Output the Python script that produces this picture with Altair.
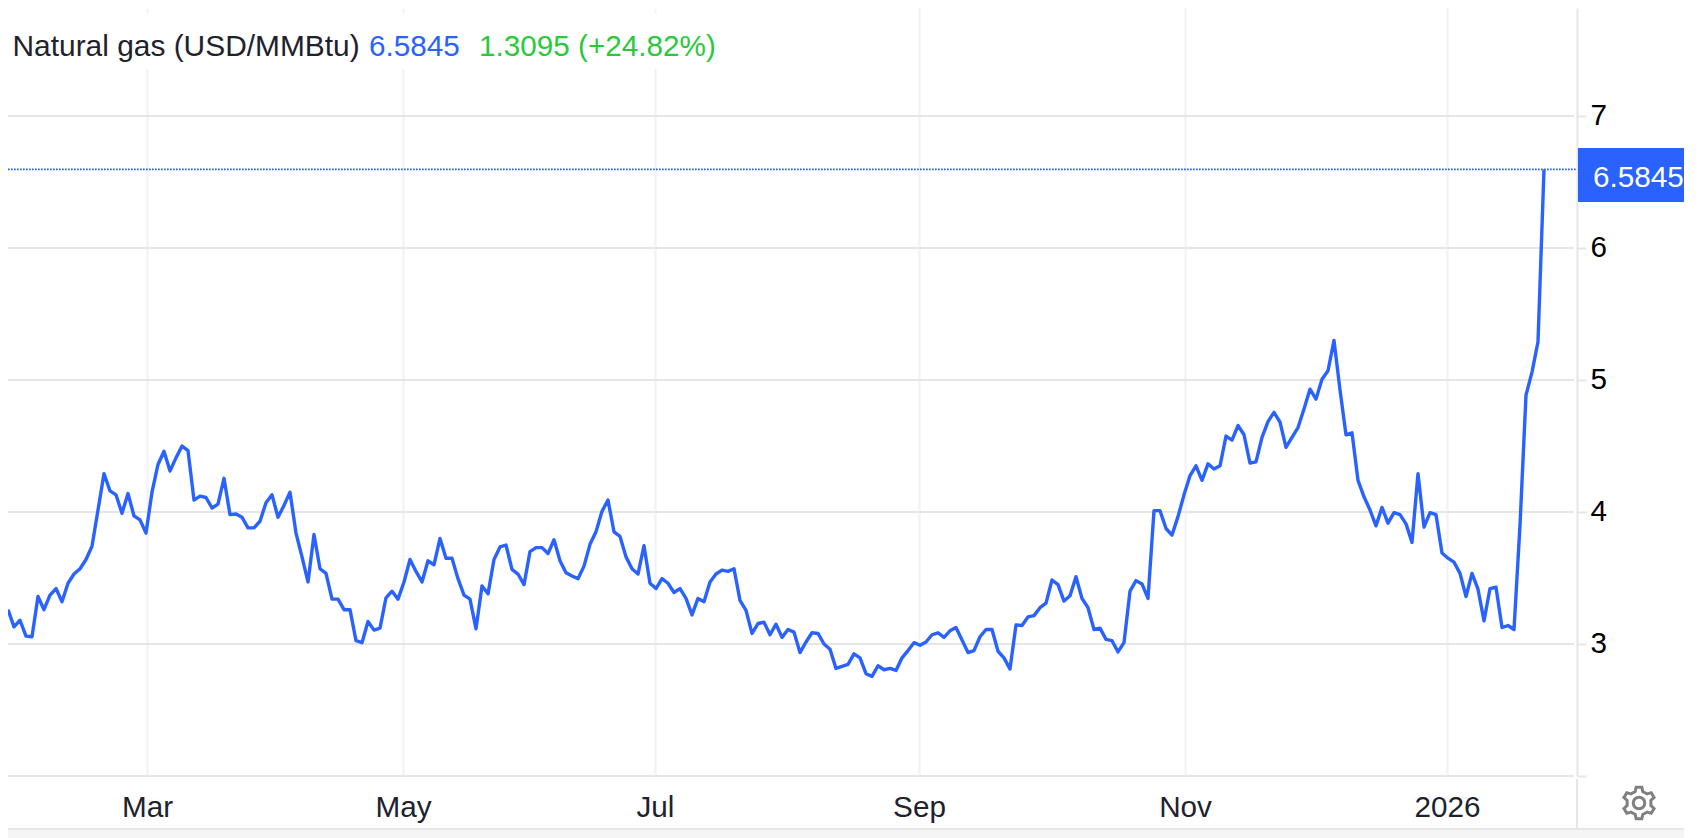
import math
import altair as alt
import pandas as pd

# Natural gas daily closes (one value per trading day)
prices_a = [3.26,3.13,3.18,3.06,3.055,3.36,3.26,3.37,3.42,3.32,3.46,3.53,3.57,3.64,3.74,4.015,4.29,4.16,4.13,3.99,
            4.14,3.97,3.94,3.84,4.15,4.36,4.46,4.31,4.41,4.50,4.465,4.09,4.12,4.11,4.03,4.06,4.255,3.98,3.985,3.96,
            3.88,3.88,3.93,4.07,4.13,3.96,4.05,4.15,3.84,3.66,3.47,3.83,3.57,3.535,3.34,3.34,3.26,3.26,3.025,3.01,
            3.17,3.105,3.12,3.35,3.40,3.34]
prices_b = [3.47,3.64,3.55,3.47,3.63,3.60,3.80,3.65,3.65,3.495,3.37,3.34,3.115,3.44,3.38,3.64,3.735,3.75,3.565,3.53,
            3.45,3.70,3.73,3.73,3.685,3.79,3.63,3.54,3.515,3.495,3.59,3.755,3.85,4.005,4.09,3.85,3.815,3.66,3.57,3.53,
            3.745,3.46,3.42,3.495,3.46,3.39,3.42,3.345,3.22,3.345,3.32,3.47,3.53,3.56,3.55,3.57,3.33,3.255,3.08,3.155,
            3.165,3.07,3.15,3.05,3.11,3.09]
prices_c = [2.935,3.015,3.085,3.08,3.0,2.96,2.815,2.83,2.845,2.925,2.895,2.775,2.755,2.835,2.805,2.815,2.80,2.895,2.95,3.01,
            2.99,3.015,3.07,3.085,3.05,3.10,3.125,3.03,2.935,2.95,3.055,3.11,3.11,2.945,2.895,2.81,3.145,3.14,3.205,3.215,
            3.275,3.31,3.485,3.45,3.325,3.365,3.51,3.345,3.275,3.11,3.12,3.035,3.025,2.94,3.01,3.40,3.48,3.455,3.345]
prices_d = [4.01,4.01,3.875,3.825,3.965,4.13,4.275,4.35,4.24,4.365,4.325,4.35,4.575,4.545,4.655,4.585,4.37,4.38,4.565,4.685,
            4.755,4.68,4.49,4.565,4.64,4.78,4.93,4.855,5.005,5.07,5.30,4.925,4.585,4.60,4.24,4.115,4.015,3.895,4.035,3.915,
            3.995,3.98,3.91,3.77,4.29,3.885,3.995,3.98,3.69,3.65,3.62,3.535,3.36,3.535,3.415,3.175,3.42,3.43,3.125,3.14,
            3.11,3.9,4.885,5.06,5.29,6.595]
prices = prices_a + prices_b + prices_c + prices_d
assert len(prices) == 257

month_labels = ["Mar", "May", "Jul", "Sep", "Nov", "2026"]
month_days = [23.17, 65.83, 107.83, 151.83, 196.17, 239.83]   # trading-day index of each gridline
price_ticks = [2, 3, 4, 5, 6, 7]
last_price = 6.595

BLUE = "#2962ff"
GREEN = "#2ac93a"
GRID_H = "#e6e6e6"
GRID_V = "#eff2f7"
FONT = "Liberation Sans"
FS = 29.7

W, H = 1569, 768
RIGHT = 107      # room right of the plot: the whole chart must fit the page's 1684 px
x_scale = alt.Scale(domain=[0, W / 6], nice=False, zero=False)
y_scale = alt.Scale(domain=[2, 7.818], nice=False, zero=False)

df = pd.DataFrame({"day": range(len(prices)), "price": prices})
grid_df = pd.DataFrame({"price": price_ticks})

expr = "''"
for d, l in zip(month_days, month_labels):
    expr = f"datum.value == {d} ? '{l}' : {expr}"

y_axis = alt.Axis(
    orient="right", values=price_ticks, title=None, grid=False,
    domainColor=GRID_H, domainWidth=2, tickColor=GRID_H, tickWidth=2, tickSize=9,
    labelFont=FONT, labelFontSize=FS, labelColor="#000000", labelPadding=4,
    labelExpr="datum.value == 2 ? '' : datum.label",
)
Y = alt.Y("price:Q", scale=y_scale, axis=y_axis)

h_grid = (
    alt.Chart(grid_df)
    .mark_rule(color=GRID_H, strokeWidth=2)
    .encode(y=Y, x=alt.value(0), x2=alt.value(W - 3))
)

line = (
    alt.Chart(df)
    .mark_line(color=BLUE, strokeWidth=3.4, strokeJoin="round", interpolate="linear")
    .encode(
        x=alt.X(
            "day:Q",
            scale=x_scale,
            axis=alt.Axis(
                orient="bottom", values=month_days, title=None, grid=True, gridColor=GRID_V, gridWidth=2,
                domain=False, ticks=False, labelFont=FONT, labelFontSize=FS, labelColor="#1e222d",
                labelPadding=40, labelBaseline="alphabetic", labelOverlap=False, labelFlush=False,
                labelExpr=expr,
            ),
        ),
        y=Y,
    )
)

last_rule = (
    alt.Chart(pd.DataFrame({"price": [last_price]}))
    .mark_rule(color=BLUE, strokeWidth=1.8, strokeDash=[1.7, 1.3])
    .encode(y=Y, x=alt.value(0), x2=alt.value(W))
)

one = pd.DataFrame({"a": [0]})

title_bg = alt.Chart(one).mark_rect(color="#ffffff").encode(
    x=alt.value(0), x2=alt.value(722), y=alt.value(5), y2=alt.value(61)
)


def txt(s, x, y, color, size=FS):
    return alt.Chart(one).mark_text(
        text=s, font=FONT, fontSize=size, color=color, align="left", baseline="alphabetic"
    ).encode(x=alt.value(x), y=alt.value(y))


t1 = txt("Natural gas (USD/MMBtu)", 4.5, 48, "#1e222d", 29.9)
t2 = txt("6.5845", 361, 48, BLUE)
t3 = txt("1.3095 (+24.82%)", 471, 48, GREEN)

badge = alt.Chart(one).mark_rect(color=BLUE).encode(
    x=alt.value(W + 1), x2=alt.value(W + RIGHT), y=alt.value(140), y2=alt.value(194)
)
badge_text = txt("6.5845", W + 16, 179, "#ffffff")

axis_tail = alt.Chart(one).mark_rule(color=GRID_H, strokeWidth=2).encode(
    x=alt.value(W), y=alt.value(H + 3), y2=alt.value(H + 53)
)
footer_bg = alt.Chart(one).mark_rect(color="#f5f5f5").encode(
    x=alt.value(0), x2=alt.value(W + RIGHT), y=alt.value(H + 53), y2=alt.value(H + 62)
)
footer_line = alt.Chart(one).mark_rule(color=GRID_H, strokeWidth=2).encode(
    x=alt.value(0), x2=alt.value(W + RIGHT), y=alt.value(H + 53)
)


def gear_path(teeth=6, outer=1.0, root=0.76, hole=0.36):
    pts = []
    for k in range(teeth):
        a = 2 * math.pi * k / teeth - math.pi / 2
        w = 2 * math.pi / teeth
        for frac, r in [(-0.30, root), (-0.17, outer), (0.17, outer), (0.30, root)]:
            pts.append((r * math.cos(a + frac * w), r * math.sin(a + frac * w)))
    p = "M" + " L".join(f"{x:.3f},{y:.3f}" for x, y in pts) + " Z "
    p += f"M{hole},0 A{hole},{hole} 0 1,0 {-hole},0 A{hole},{hole} 0 1,0 {hole},0 Z"
    return p


gear = alt.Chart(one).mark_point(
    shape=gear_path(), size=1024, filled=False, stroke="#808080", strokeWidth=3, opacity=1
).encode(x=alt.value(1631), y=alt.value(795))

chart = (
    alt.layer(h_grid, line, last_rule, title_bg, t1, t2, t3, axis_tail, footer_bg, footer_line, badge, badge_text, gear)
    .properties(
        width=W,
        height=H,
        padding={"left": 0, "top": 0, "right": RIGHT, "bottom": 62},
        autosize=alt.AutoSizeParams(type="none"),
        background="#ffffff",
    )
    .configure_view(stroke=None)
)

chart.save("out.html", embed_options={"renderer": "svg", "actions": False})
